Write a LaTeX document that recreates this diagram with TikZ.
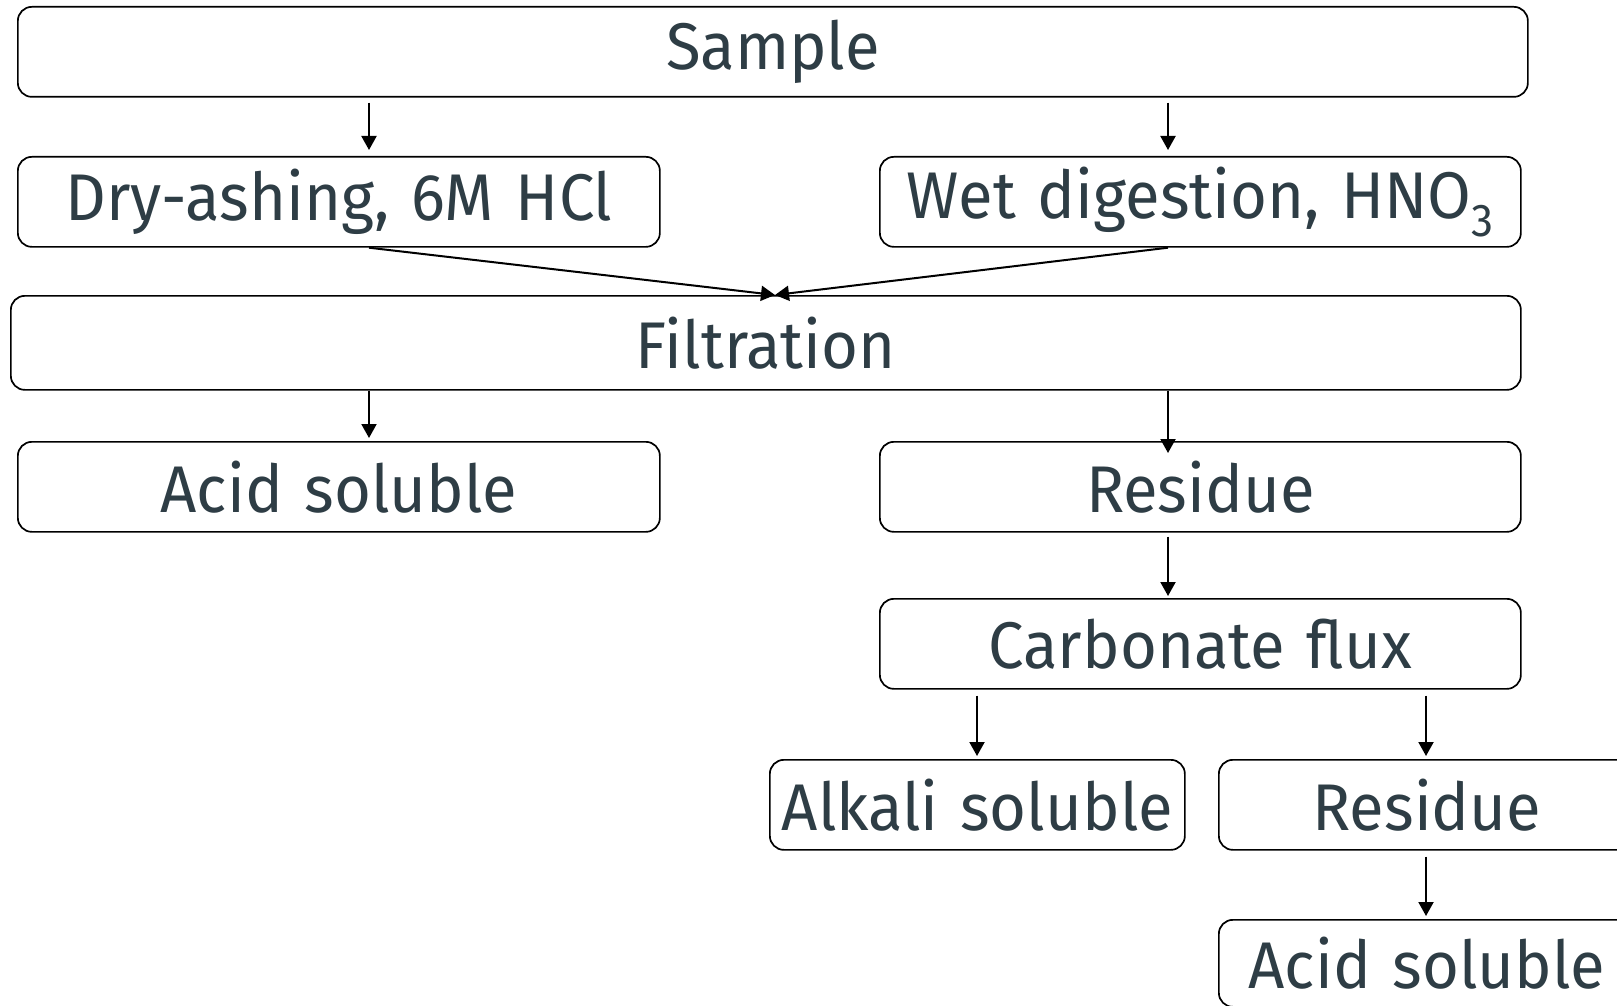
\documentclass[tikz,border=0pt]{standalone}
\usepackage{fontspec}
\setmainfont[FakeStretch=0.96,WordSpace=1.3]{Fira Sans}
\usetikzlibrary{arrows.meta}
\definecolor{txt}{HTML}{2E3D45}
\tikzset{
  box/.style={draw=black, line width=0.85pt, rounded corners=7pt, fill=white, inner sep=0pt,
    text=txt, font=\fontsize{33}{40}\selectfont, anchor=north west},
  arr/.style={-{Triangle[length=7pt,width=7.5pt]}, line width=1pt, black}
}
\newcommand{\bx}[6]{% name, x1, y1, x2, y2, text
  \node[box, minimum width={(#4-#2)*0.5pt}, minimum height={(#5-#3)*0.5pt}] (#1) at (#2,#3) {#6};}
\newcommand{\subthree}{\raisebox{-0.28em}{\fontsize{23}{23}\selectfont 3}}
\begin{document}
\begin{tikzpicture}[x=0.5pt,y=-0.5pt]
\useasboundingbox (0,0) rectangle (1617,1006);
\clip (0,0) rectangle (1617,1006);
\bx{sample}{17}{6}{1527}{96}{Sample}
\bx{dry}{17}{156}{659}{246}{Dry-ashing, 6M HCl}
\bx{wet}{879}{156}{1520}{246}{Wet digestion, HNO\subthree}
\bx{filt}{10}{295}{1520}{389}{Filtration}
\bx{acid}{17}{441}{659}{531}{Acid soluble}
\bx{res}{879}{441}{1520}{531}{Residue}
\bx{carb}{879}{598}{1520}{688}{Carbonate flux}
\bx{alk}{769}{759}{1184}{849}{Alkali soluble}
\bx{res2}{1218}{759}{1634}{849}{Residue}
\bx{acid2}{1218}{919}{1634}{1006}{Acid soluble}
\coordinate (cL) at (369,0);
\coordinate (cR) at (1168,0);
\coordinate (cA) at (977,0);
\coordinate (cB) at (1426,0);
\coordinate (meet) at (775,295);
\draw[arr, shorten <=2.5pt, shorten >=3pt] (sample.south -| cL) -- (dry.north -| cL);
\draw[arr, shorten <=2.5pt, shorten >=3pt] (sample.south -| cR) -- (wet.north -| cR);
\draw[arr] (dry.south -| cL) -- (meet);
\draw[arr] (wet.south -| cR) -- (meet);
\draw[arr, shorten <=0pt, shorten >=1.5pt] (filt.south -| cL) -- (acid.north -| cL);
\draw[arr, shorten >=-6pt] (filt.south -| cR) -- (res.north -| cR);
\draw[arr, shorten <=2pt, shorten >=1pt] (res.south -| cR) -- (carb.north -| cR);
\draw[arr, shorten <=3pt, shorten >=1.5pt] (carb.south -| cA) -- (alk.north -| cA);
\draw[arr, shorten <=3pt, shorten >=1.5pt] (carb.south -| cB) -- (res2.north -| cB);
\draw[arr, shorten <=3pt, shorten >=1.5pt] (res2.south -| cB) -- (acid2.north -| cB);
\end{tikzpicture}
\end{document}
